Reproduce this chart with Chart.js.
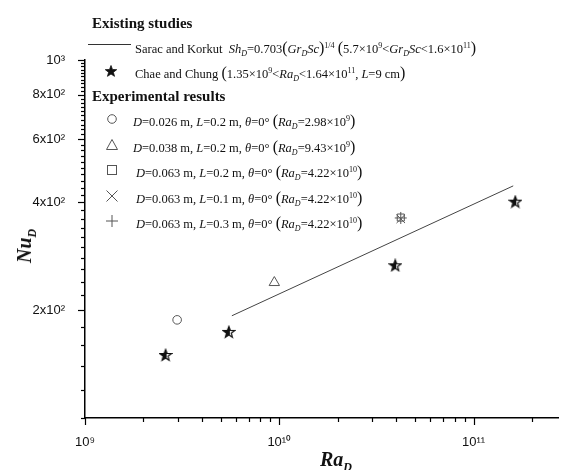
<!DOCTYPE html>
<html>
<head>
<meta charset="utf-8">
<script src="https://cdn.jsdelivr.net/npm/chart.js@4"></script>
<style>
  html,body{margin:0;padding:0;background:#fff;}
  #wrap{position:relative;width:565px;height:470px;overflow:hidden;background:#fff;}
  #c{position:absolute;left:0;top:0;}
  .lg{position:absolute;font-family:"Liberation Serif","Times New Roman",serif;color:#111;white-space:nowrap;line-height:16px;}
  .hd{font-weight:bold;font-size:15px;}
  .tx{font-size:12.5px;}
  .tx sub{font-size:8px;vertical-align:-3px;}
  .tx sup{font-size:8px;vertical-align:5px;}
  .bp{font-size:16px;}
  .sym{position:absolute;}
  .ttl{position:absolute;font-family:"Liberation Serif","Times New Roman",serif;font-weight:bold;font-style:italic;font-size:20px;color:#111;white-space:nowrap;line-height:20px;}
  .ttl sub{font-size:12px;vertical-align:-5px;}
</style>
</head>
<body>
<div id="wrap">
  <canvas id="c" width="565" height="470"></canvas>

  <div class="lg hd" style="left:92px;top:15px;">Existing studies</div>
  <div style="position:absolute;left:88px;top:44px;width:43px;height:1px;background:#333;"></div>
  <div class="lg tx" style="left:135px;top:38px;">Sarac and Korkut&nbsp; <i>Sh</i><sub><i>D</i></sub>=0.703<span class="bp">(</span><i>Gr</i><sub><i>D</i></sub><i>Sc</i><span class="bp">)</span><sup>1/4</sup> <span class="bp">(</span>5.7×10<sup>9</sup>&lt;<i>Gr</i><sub><i>D</i></sub><i>Sc</i>&lt;1.6×10<sup>11</sup><span class="bp">)</span></div>

  <svg class="sym" style="left:104px;top:64px;" width="14" height="14" viewBox="0 0 14 14"><polygon id="lgstar" points="" fill="#111" stroke="#111" stroke-width="0.8"/></svg>
  <div class="lg tx" style="left:135px;top:63px;">Chae and Chung <span class="bp">(</span>1.35×10<sup>9</sup>&lt;<i>Ra</i><sub><i>D</i></sub>&lt;1.64×10<sup>11</sup>, <i>L</i>=9 cm<span class="bp">)</span></div>

  <div class="lg hd" style="left:92px;top:88px;">Experimental results</div>

  <svg class="sym" style="left:106px;top:113px;" width="12" height="12"><circle cx="6" cy="6" r="4.3" fill="none" stroke="#555" stroke-width="1"/></svg>
  <div class="lg tx" style="left:133px;top:111px;"><i>D</i>=0.026 m, <i>L</i>=0.2 m, <i>θ</i>=0° <span class="bp">(</span><i>Ra</i><sub><i>D</i></sub>=2.98×10<sup>9</sup><span class="bp">)</span></div>

  <svg class="sym" style="left:105px;top:138px;" width="14" height="14"><polygon points="7,1.5 12.5,11.5 1.5,11.5" fill="none" stroke="#555" stroke-width="1"/></svg>
  <div class="lg tx" style="left:133px;top:137px;"><i>D</i>=0.038 m, <i>L</i>=0.2 m, <i>θ</i>=0° <span class="bp">(</span><i>Ra</i><sub><i>D</i></sub>=9.43×10<sup>9</sup><span class="bp">)</span></div>

  <svg class="sym" style="left:106px;top:164px;" width="12" height="12"><rect x="1.5" y="1.5" width="9" height="9" fill="none" stroke="#555" stroke-width="1"/></svg>
  <div class="lg tx" style="left:136px;top:162px;"><i>D</i>=0.063 m, <i>L</i>=0.2 m, <i>θ</i>=0° <span class="bp">(</span><i>Ra</i><sub><i>D</i></sub>=4.22×10<sup>10</sup><span class="bp">)</span></div>

  <svg class="sym" style="left:105px;top:189px;" width="14" height="14"><path d="M1.5,1.5 L12.5,12.5 M12.5,1.5 L1.5,12.5" stroke="#555" stroke-width="1"/></svg>
  <div class="lg tx" style="left:136px;top:188px;"><i>D</i>=0.063 m, <i>L</i>=0.1 m, <i>θ</i>=0° <span class="bp">(</span><i>Ra</i><sub><i>D</i></sub>=4.22×10<sup>10</sup><span class="bp">)</span></div>

  <svg class="sym" style="left:105px;top:214px;" width="14" height="14"><path d="M7,1 L7,13 M1,7 L13,7" stroke="#555" stroke-width="1"/></svg>
  <div class="lg tx" style="left:136px;top:213px;"><i>D</i>=0.063 m, <i>L</i>=0.3 m, <i>θ</i>=0° <span class="bp">(</span><i>Ra</i><sub><i>D</i></sub>=4.22×10<sup>10</sup><span class="bp">)</span></div>

  <div class="ttl" style="left:28px;top:246px;transform:translate(-50%,-50%) rotate(-90deg);">Nu<sub>D</sub></div>
  <div class="ttl" style="left:320px;top:449px;">Ra<sub>D</sub></div>
</div>

<script>
// ---------------- data ----------------
const chaeRa = [2.6e9, 5.5e9, 3.95e10, 1.64e11];
const chaeNu = [150, 174, 267, 402];

const saracRa = [5.7e9, 1.6e11];
const saracNu = [193, 445];

const circleRa = [2.98e9];
const circleNu = [188];

const triangleRa = [9.43e9];
const triangleNu = [239];

const squareRa = [4.22e10];
const squareNu = [363];

const crossRa = [4.22e10];
const crossNu = [360];

const plusRa = [4.22e10];
const plusNu = [362];

// ---------------- ticks ----------------
const xTickValues = [1e9,2e9,3e9,4e9,5e9,6e9,7e9,8e9,9e9,
                     1e10,2e10,3e10,4e10,5e10,6e10,7e10,8e10,9e10,
                     1e11,2e11];
const xMajorValues = [1e9, 1e10, 1e11];
const xMajorLabels = ['10⁹', '10¹⁰', '10¹¹'];

const yTickValues = [100,120,140,160,180,200,220,240,260,280,300,320,340,360,380,400,
                     420,440,460,480,500,520,540,560,580,600,620,640,660,680,700,
                     720,740,760,780,800,820,840,860,880,900,920,940,960,980,1000];
const yMajorValues = [200, 400, 600, 800, 1000];
const yMajorLabels = ['2x10²', '4x10²', '6x10²', '8x10²', '10³'];

function pts(xs, ys){ return xs.map((x,i)=>({x:x, y:ys[i]})); }

// star point style
function starPath(ctx, cx, cy, ro, ri){
  ctx.beginPath();
  for(let i=0;i<10;i++){
    const r = i%2===0 ? ro : ri;
    const a = -Math.PI/2 + i*Math.PI/5;
    const px = cx + r*Math.cos(a), py = cy + r*Math.sin(a);
    if(i===0) ctx.moveTo(px,py); else ctx.lineTo(px,py);
  }
  ctx.closePath();
}
const starImg = document.createElement('canvas');
starImg.width = 14; starImg.height = 14;
(function(){
  const g = starImg.getContext('2d');
  starPath(g, 7, 7.5, 6, 2.5);
  g.save(); g.clip();
  g.fillStyle = '#111'; g.fillRect(0,0,8,14);
  g.restore();
  starPath(g, 7, 7.5, 6, 2.5);
  g.strokeStyle = '#111'; g.lineWidth = 1.2; g.stroke();
})();
// legend star
(function(){
  const p=[]; for(let i=0;i<10;i++){const r=i%2===0?6:2.5;const a=-Math.PI/2+i*Math.PI/5;p.push((7+r*Math.cos(a)).toFixed(2)+','+(7.5+r*Math.sin(a)).toFixed(2));}
  document.getElementById('lgstar').setAttribute('points', p.join(' '));
})();

const tickPlugin = {
  id: 'tickMarks',
  afterDraw(chart){
    const ctx = chart.ctx, xs = chart.scales.x, ys = chart.scales.y, a = chart.chartArea;
    ctx.save();
    ctx.strokeStyle = '#000'; ctx.lineWidth = 1.2;
    xTickValues.forEach(v=>{
      const px = Math.round(xs.getPixelForValue(v)) + 0.5;
      const len = xMajorValues.includes(v) ? 7 : 4;
      ctx.beginPath(); ctx.moveTo(px, a.bottom); ctx.lineTo(px, a.bottom + len); ctx.stroke();
    });
    yTickValues.forEach(v=>{
      const py = Math.round(ys.getPixelForValue(v)) + 0.5;
      const len = yMajorValues.includes(v) ? 7 : 4;
      ctx.beginPath(); ctx.moveTo(a.left, py); ctx.lineTo(a.left - len, py); ctx.stroke();
    });
    ctx.restore();
  }
};

new Chart(document.getElementById('c'), {
  type: 'scatter',
  data: {
    datasets: [
      { label: 'Sarac and Korkut', data: pts(saracRa, saracNu), showLine: true,
        borderColor: '#444', borderWidth: 1, pointRadius: 0, fill: false },
      { label: 'Chae and Chung', data: pts(chaeRa, chaeNu), pointStyle: starImg },
      { label: 'D=0.026', data: pts(circleRa, circleNu), pointStyle: 'circle', pointRadius: 4.3,
        borderColor: '#555', backgroundColor: 'rgba(0,0,0,0)', borderWidth: 1 },
      { label: 'D=0.038', data: pts(triangleRa, triangleNu), pointStyle: 'triangle', pointRadius: 6,
        borderColor: '#555', backgroundColor: 'rgba(0,0,0,0)', borderWidth: 1 },
      { label: 'D=0.063 L=0.2', data: pts(squareRa, squareNu), pointStyle: 'rect', pointRadius: 5,
        borderColor: '#555', backgroundColor: 'rgba(0,0,0,0)', borderWidth: 1 },
      { label: 'D=0.063 L=0.1', data: pts(crossRa, crossNu), pointStyle: 'crossRot', pointRadius: 6,
        borderColor: '#555', backgroundColor: 'rgba(0,0,0,0)', borderWidth: 1 },
      { label: 'D=0.063 L=0.3', data: pts(plusRa, plusNu), pointStyle: 'cross', pointRadius: 6,
        borderColor: '#555', backgroundColor: 'rgba(0,0,0,0)', borderWidth: 1 }
    ]
  },
  options: {
    responsive: false,
    animation: false,
    devicePixelRatio: 1,
    layout: { padding: { top: 60, right: 0, left: 0, bottom: 0 } },
    plugins: { legend: { display: false }, tooltip: { enabled: false } },
    scales: {
      x: {
        type: 'logarithmic', position: 'bottom', min: 1e9, max: 2.72e11,
        grid: { display: false },
        border: { display: true, color: '#000', width: 1.5 },
        afterBuildTicks: s => { s.ticks = xTickValues.map(v=>({value:v})); },
        afterFit: s => { s.height = 52; },
        ticks: {
          autoSkip: false, maxRotation: 0, padding: 9, color: '#111',
          font: { family: 'Liberation Sans', size: 13 },
          callback: v => { const i = xMajorValues.indexOf(v); return i >= 0 ? xMajorLabels[i] : ''; }
        }
      },
      y: {
        type: 'logarithmic', position: 'left', min: 100, max: 1000,
        grid: { display: false },
        border: { display: true, color: '#000', width: 1.5 },
        afterBuildTicks: s => { s.ticks = yTickValues.map(v=>({value:v})); },
        afterFit: s => { s.width = 85; },
        ticks: {
          autoSkip: false, padding: 12, color: '#111',
          font: { family: 'Liberation Sans', size: 13 },
          callback: v => { const i = yMajorValues.indexOf(v); return i >= 0 ? yMajorLabels[i] : ''; }
        }
      }
    }
  },
  plugins: [tickPlugin]
});
</script>
</body>
</html>
